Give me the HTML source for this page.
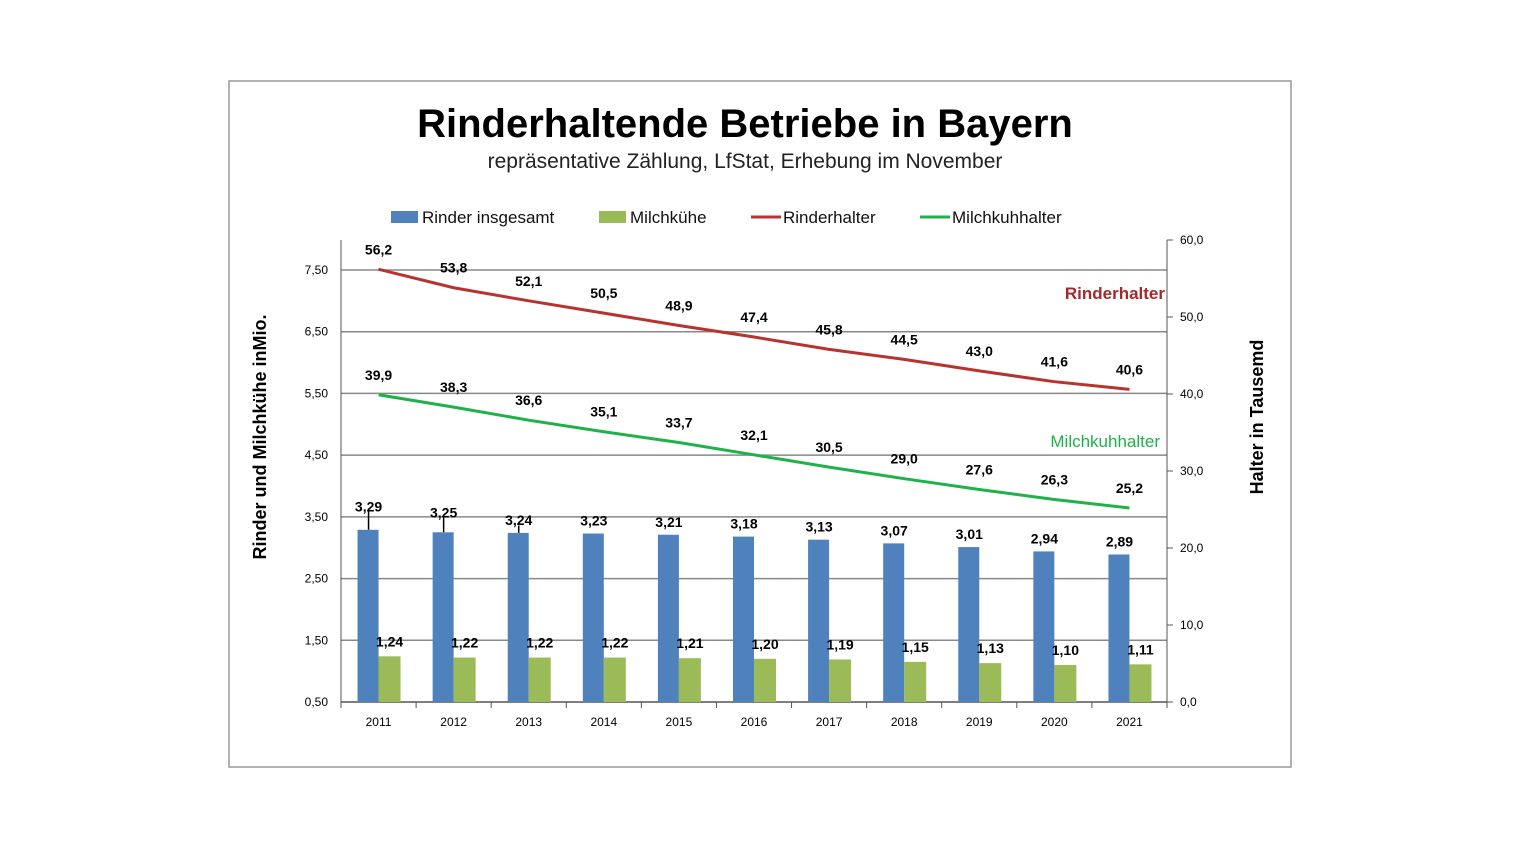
<!DOCTYPE html>
<html><head><meta charset="utf-8"><style>
body{margin:0;background:#fff;}
svg text{font-family:"Liberation Sans",Arial,sans-serif;}
</style></head><body>
<svg id="c" width="1534" height="862" xmlns="http://www.w3.org/2000/svg">
<rect x="229" y="81" width="1062" height="686" fill="#fff" stroke="#999" stroke-width="1.5"/>
<text x="745" y="137" text-anchor="middle" font-size="40" font-weight="bold" fill="#000">Rinderhaltende Betriebe in Bayern</text>
<text x="745" y="168" text-anchor="middle" font-size="21" fill="#222">repräsentative Zählung, LfStat, Erhebung im November</text>
<g font-size="17" fill="#111">
<rect x="391" y="211" width="27" height="12" fill="#4f81bd"/>
<text x="422" y="223">Rinder insgesamt</text>
<rect x="599" y="211" width="27" height="12" fill="#9bbb59"/>
<text x="630" y="223">Milchkühe</text>
<line x1="751" y1="217" x2="781" y2="217" stroke="#b8332e" stroke-width="3"/>
<text x="783" y="223">Rinderhalter</text>
<line x1="920" y1="217" x2="950" y2="217" stroke="#1fb24a" stroke-width="3"/>
<text x="952" y="223">Milchkuhhalter</text>
</g>
<text transform="translate(266,437) rotate(-90)" text-anchor="middle" font-size="18" font-weight="bold">Rinder und Milchkühe inMio.</text>
<text transform="translate(1263,417) rotate(-90)" text-anchor="middle" font-size="18" font-weight="bold">Halter in Tausemd</text>
<g id="plot"></g>
</svg>
<script>
const years=["2011","2012","2013","2014","2015","2016","2017","2018","2019","2020","2021"];
const rinder=[3.29,3.25,3.24,3.23,3.21,3.18,3.13,3.07,3.01,2.94,2.89];
const rinderErr=[0.30,0.24,0.12,0,0,0,0,0,0,0,0];
const milchkuehe=[1.24,1.22,1.22,1.22,1.21,1.20,1.19,1.15,1.13,1.10,1.11];
const rinderhalter=[56.2,53.8,52.1,50.5,48.9,47.4,45.8,44.5,43.0,41.6,40.6];
const milchkuhhalter=[39.9,38.3,36.6,35.1,33.7,32.1,30.5,29.0,27.6,26.3,25.2];
const leftTicks=[0.5,1.5,2.5,3.5,4.5,5.5,6.5,7.5];
const rightTicks=[0,10,20,30,40,50,60];

const NS="http://www.w3.org/2000/svg";
const g=document.getElementById('plot');
const X0=341,X1=1167,YB=702,YT=240;
const step=(X1-X0)/years.length;
const cx=i=>X0+step*(i+0.5);
const yL=v=>YB-(v-0.5)*(YB-270)/7;
const yR=v=>YB-v*(YB-YT)/60;
const fmt=(v,d)=>v.toFixed(d).replace('.',',');
function el(t,a,p){const e=document.createElementNS(NS,t);for(const k in a)e.setAttribute(k,a[k]);(p||g).appendChild(e);return e;}

leftTicks.forEach(v=>{
  const y=yL(v);
  if(v>0.5){const l=el('line',{x1:X0,x2:X1,y1:y,y2:y,stroke:'#888','stroke-width':1.5});
  
  }
  const t=el('text',{x:328,y:y+4,'text-anchor':'end','font-size':12});t.textContent=fmt(v,2);
  
  
});
rightTicks.forEach(v=>{
  const y=yR(v);
  el('line',{x1:X1,x2:X1+6,y1:y,y2:y,stroke:'#555'});
  const t=el('text',{x:1180,y:y+4,'font-size':12});t.textContent=fmt(v,1);
  
  
});
el('line',{x1:X0,x2:X0,y1:YT,y2:YB,stroke:'#555'});
el('line',{x1:X1,x2:X1,y1:YT,y2:YB,stroke:'#555'});
el('line',{x1:X0,x2:X1,y1:YB,y2:YB,stroke:'#555','stroke-width':1.5});
for(let i=0;i<=years.length;i++){const x=X0+step*i;el('line',{x1:x,x2:x,y1:YB,y2:YB+6,stroke:'#555'});}

years.forEach((yr,i)=>{
  const c=cx(i);
  const t=el('text',{x:c,y:726,'text-anchor':'middle','font-size':12});t.textContent=yr;
  
  
  const yb=yL(rinder[i]);
  if(rinderErr[i]>0){el('line',{x1:c-10,x2:c-10,y1:yL(rinder[i]+rinderErr[i]),y2:yb,stroke:'#000','stroke-width':1.5});}
  const b=el('rect',{x:c-21,y:yb,width:21,height:YB-yb,fill:'#4f81bd'});
  
  
  const lb=el('text',{x:c-10,y:Math.min(yb,rinderErr[i]>0?yL(rinder[i]+rinderErr[i])+8:yb)-8,'text-anchor':'middle','font-size':14,'font-weight':'bold'});lb.textContent=fmt(rinder[i],2);
  
  
  const ym=yL(milchkuehe[i]);
  const m=el('rect',{x:c,y:ym,width:22,height:YB-ym,fill:'#9bbb59'});
  
  
  const lm=el('text',{x:c+11,y:ym-10,'text-anchor':'middle','font-size':14,'font-weight':'bold'});lm.textContent=fmt(milchkuehe[i],2);
  
  
});
function line(arr,col,name){
  const p=el('polyline',{points:arr.map((v,i)=>cx(i)+','+yR(v)).join(' '),fill:'none',stroke:col,'stroke-width':3});
  
  
  arr.forEach((v,i)=>{const t=el('text',{x:cx(i),y:yR(v)-15-(i>0?0:0),'text-anchor':'middle','font-size':14,'font-weight':'bold'});t.textContent=fmt(v,1);
  
  });
}
line(rinderhalter,'#b8332e','line-rinderhalter');
line(milchkuhhalter,'#1fb24a','line-milchkuhhalter');
const a=el('text',{x:1165,y:299,'text-anchor':'end','font-size':17,'font-weight':'bold',fill:'#a52a2a'});a.textContent='Rinderhalter';


const b2=el('text',{x:1160,y:447,'text-anchor':'end','font-size':17,fill:'#1fb24a'});b2.textContent='Milchkuhhalter';


</script>
</body></html>
